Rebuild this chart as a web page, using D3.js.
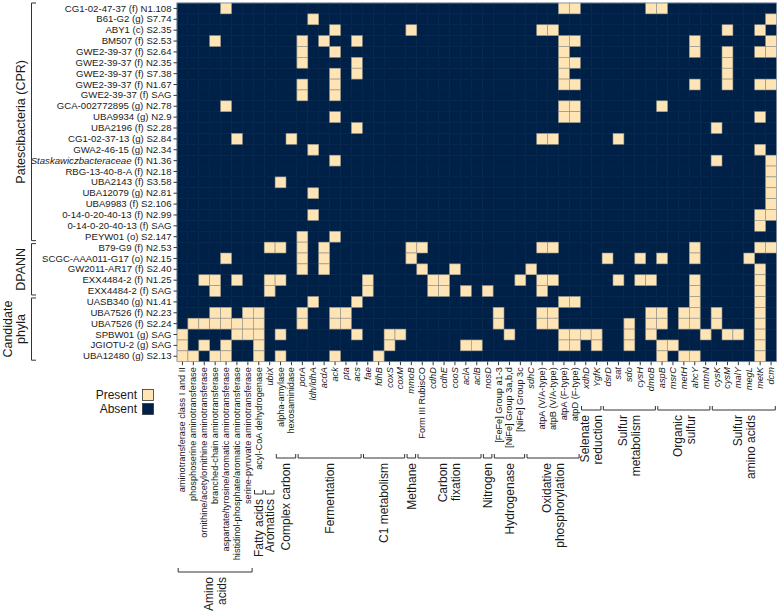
<!DOCTYPE html>
<html><head><meta charset="utf-8">
<script src="https://cdn.jsdelivr.net/npm/d3@7"></script>
<style>
body{margin:0;background:#fff;}
svg text{font-family:"Liberation Sans", Arial, Helvetica, sans-serif;fill:#1a1a1a;}
</style>
</head><body>
<svg id="chart" width="778" height="614"></svg>
<script>
// ---------------- DATA ----------------
const rowLabels = [
  "CG1-02-47-37 (f) N1.108","B61-G2 (g) S7.74","ABY1 (c) S2.35","BM507 (f) S2.53",
  "GWE2-39-37 (f) S2.64","GWE2-39-37 (f) N2.35","GWE2-39-37 (f) S7.38","GWE2-39-37 (f) N1.67",
  "GWE2-39-37 (f) SAG","GCA-002772895 (g) N2.78","UBA9934 (g) N2.9","UBA2196 (f) S2.28",
  "CG1-02-37-13 (g) S2.84","GWA2-46-15 (g) N2.34","Staskawiczbacteraceae (f) N1.36","RBG-13-40-8-A (f) N2.18",
  "UBA2143 (f) S3.58","UBA12079 (g) N2.81","UBA9983 (f) S2.106","0-14-0-20-40-13 (f) N2.99",
  "0-14-0-20-40-13 (f) SAG","PEYW01 (o) S2.147","B79-G9 (f) N2.53","SCGC-AAA011-G17 (o) N2.15",
  "GW2011-AR17 (f) S2.40","EXX4484-2 (f) N1.25","EXX4484-2 (f) SAG","UASB340 (g) N1.41",
  "UBA7526 (f) N2.23","UBA7526 (f) S2.24","SPBW01 (g) SAG","JGIOTU-2 (g) SAG","UBA12480 (g) S2.13"
];
const italicTaxa = ["Staskawiczbacteraceae"];

const rowGroupNames = [["Patescibacteria (CPR)"], ["DPANN"], ["Candidate", "phyla"]];
const rowGroupSizes = [22, 5, 6];

const columns = [
  "aminotransferase class I and II","phosphoserine aminotransferase","ornithine/acetylornithine aminotransferase",
  "branched-chain aminotransferase","aspartate/tyrosine/aromatic aminotransferase","histidinol-phosphate/aromatic aminotransferase",
  "serine-pyruvate aminotransferase","acyl-CoA dehydrogenase","ubiX","alpha-amylase","hexosaminidase",
  "porA","ldh/ldhA","acdA","ack","pta","acs","fae","fdhB","coxS","coxM","mmoB",
  "Form III RubisCO","cdhD","cdhE","cooS","aclA","aclB","nosD",
  "[FeFe] Group a1-3","[NiFe] Group 3a,b,d","[NiFe] Group 3c",
  "sdhC","atpA (V/A-type)","atpB (V/A-type)","atpA (F-type)","atpD (F-type)",
  "xdhD","YgfK","dsrD","sat","sdo","cysH","dmoB","aspB","msrC","metH","ahcY","mtnN",
  "cysK","cysM","malY","megL","metK","dcm"
];
const italicColumns = ["ubiX","porA","ldh/ldhA","acdA","ack","pta","acs","fae","fdhB","coxS","coxM","mmoB",
  "cdhD","cdhE","cooS","aclA","aclB","nosD","sdhC","xdhD","YgfK","dsrD","sat","sdo","cysH","dmoB","aspB",
  "msrC","metH","ahcY","mtnN","cysK","cysM","malY","megL","metK","dcm"];

const colGroupNames = [["Amino","acids"],["Fatty acids"],["Aromatics"],["Complex carbon"],["Fermentation"],
  ["C1 metabolism"],["Methane"],["Carbon","fixation"],["Nitrogen"],["Hydrogenase"],
  ["Oxidative","phosphorylation"],["Selenate","reduction"],["Sulfur","metabolism"],["Organic","sulfur"],["Sulfur","amino acids"]];
const colGroupSizes = [7,1,1,2,6,4,1,6,1,3,5,2,5,5,6];

// indices (into columns) of genes marked Present, one list per row
const presentByRow = [
  [4,35,36,43,44],
  [12,54],
  [14,21,33,34,50,53],
  [3,11,13,16,35,36,47,54],
  [11,14,35,47,50,53,54],
  [11,16,35,36,50],
  [14,16,35,50],
  [11,14,35,36,47,50,53,54],
  [11,14],
  [4,35,36,44],
  [14,35,36,53],
  [16,49],
  [5,10,33,34,40],
  [12,53],
  [14,49,54],
  [54],
  [9,54],
  [12,54],
  [54],
  [12,53,54],
  [53],
  [11,14],
  [8,9,11,13,21,22,33,34,47,53,54],
  [4,11,13,21,39,42,44,47,52],
  [11,13,22,25,32,53],
  [2,3,5,8,9,17,23,24,31,33,34,40,42,43,47,53],
  [3,8,17,23,24,26,28,33,47,53],
  [12,16,35,36,47,53],
  [3,4,6,7,11,14,15,29,33,34,43,44,46,47,49,53],
  [1,2,3,4,5,6,7,11,14,15,29,33,34,41,43,44,46,47,49,53],
  [0,5,6,7,9,16,19,20,30,35,36,37,38,41,43,48,50,51,53],
  [0,2,4,7,19,26,27,35,36,38,41,44,45,53],
  [0,1,3,4,7,9,14,18,44,46,47,53]
];
const legendLabels = ["Present","Absent"];

// ---------------- LAYOUT ----------------
const X0 = 177, X1 = 776.5, Y0 = 3, Y1 = 361.7;
const PRESENT = "#FFE4B5", ABSENT = "#002147";
const colGroupBlock = [0,1,1,2,2,2,2,2,2,2,2,3,3,3,3];
const blockBracketY = [572, 494, 458, 410];

const svg = d3.select("#chart");
const x = d3.scaleBand().domain(columns).range([X0, X1]);
const y = d3.scaleBand().domain(rowLabels).range([Y0, Y1]);
const color = d3.scaleOrdinal().domain(legendLabels).range([PRESENT, ABSENT]);

const cells = [];
rowLabels.forEach((r, i) => {
  const s = new Set(presentByRow[i]);
  columns.forEach((c, j) => cells.push({r, c, v: s.has(j) ? "Present" : "Absent"}));
});
cells.sort((a, b) => (a.v === "Present") - (b.v === "Present"));

svg.append("g").selectAll("rect").data(cells).join("rect")
  .attr("x", d => x(d.c)).attr("y", d => y(d.r))
  .attr("width", x.bandwidth()).attr("height", y.bandwidth())
  .attr("fill", d => color(d.v))
  .attr("stroke", d => d.v === "Present" ? "#8c8c84" : ABSENT)
  .attr("stroke-width", 0.6);

svg.append("rect").attr("x", X0).attr("y", Y0).attr("width", X1 - X0).attr("height", Y1 - Y0)
  .attr("fill", "none").attr("stroke", "#9aa3ad").attr("stroke-width", 0.7);

// Y axis
const yAxis = svg.append("g").attr("transform", `translate(${X0},0)`)
  .call(d3.axisLeft(y).tickSize(3.5).tickPadding(2));
yAxis.select(".domain").remove();
yAxis.selectAll(".tick line").attr("stroke", "#333");
yAxis.selectAll(".tick text")
  .attr("font-size", 9.6).attr("font-family", null).attr("fill", "#1a1a1a")
  .each(function(d) {
    const m = d.match(/^(\S+)( .*)$/);
    if (m && italicTaxa.includes(m[1])) {
      const t = d3.select(this).text("");
      t.append("tspan").attr("font-style", "italic").text(m[1]);
      t.append("tspan").text(m[2]);
    }
  });

// X axis
const xAxis = svg.append("g").attr("transform", `translate(0,${Y1})`)
  .call(d3.axisBottom(x).tickSize(3.5).tickPadding(2));
xAxis.select(".domain").remove();
xAxis.selectAll(".tick line").attr("stroke", "#333");
xAxis.selectAll(".tick text")
  .attr("font-size", 9.2).attr("font-family", null).attr("fill", "#1a1a1a")
  .attr("transform", "rotate(-90)").attr("text-anchor", "end")
  .attr("x", -5.5).attr("y", 0).attr("dy", "0.33em")
  .attr("font-style", d => italicColumns.includes(d) ? "italic" : "normal");

// Column group brackets
let start = 0;
const gb = svg.append("g");
colGroupNames.forEach((lines, gi) => {
  const cols = columns.slice(start, start + colGroupSizes[gi]);
  start += colGroupSizes[gi];
  const xa = x(cols[0]) + 1.2, xb = x(cols[cols.length - 1]) + x.bandwidth() - 1.2;
  const by = blockBracketY[colGroupBlock[gi]];
  gb.append("path").attr("d", `M${xa},${by - 4}V${by}H${xb}V${by - 4}`)
    .attr("fill", "none").attr("stroke", "#333").attr("stroke-width", 1);
  const cx = (xa + xb) / 2;
  const lh = 13;
  const t = gb.append("text").attr("transform", `translate(${cx},${by + 5}) rotate(-90)`)
    .attr("text-anchor", "end").attr("font-size", 12);
  lines.forEach((ln, li) => {
    t.append("tspan").attr("x", 0).attr("y", (li - (lines.length - 1) / 2) * lh).attr("dy", "0.35em").text(ln);
  });
});

// Row group brackets
let rs = 0;
const rb = svg.append("g");
rowGroupNames.forEach((lines, gi) => {
  const rows = rowLabels.slice(rs, rs + rowGroupSizes[gi]);
  rs += rowGroupSizes[gi];
  const ya = y(rows[0]) + (gi === 0 ? 0 : 1.5), yb = y(rows[rows.length - 1]) + y.bandwidth() - 1.5;
  const bx = 31.5;
  rb.append("path").attr("d", `M${bx + 4.5},${ya}H${bx}V${yb}H${bx + 4.5}`)
    .attr("fill", "none").attr("stroke", "#333").attr("stroke-width", 1);
  const cy = (ya + yb) / 2;
  const t = rb.append("text").attr("transform", `translate(21,${cy}) rotate(-90)`)
    .attr("text-anchor", "middle").attr("font-size", 12.5);
  lines.forEach((ln, li) => {
    t.append("tspan").attr("x", 0).attr("y", (li - (lines.length - 1)) * 13).attr("dy", "0.35em").text(ln);
  });
});

// Legend
const lg = svg.append("g");
legendLabels.forEach((lab, i) => {
  const ly = 395 + i * 14;
  lg.append("rect").attr("x", 142.5).attr("y", ly - 5.5).attr("width", 11).attr("height", 11)
    .attr("fill", color(lab)).attr("stroke", "#333").attr("stroke-width", 0.8);
  lg.append("text").attr("x", 137).attr("y", ly).attr("dy", "0.35em")
    .attr("text-anchor", "end").attr("font-size", 12).text(lab);
});
</script>
</body></html>
